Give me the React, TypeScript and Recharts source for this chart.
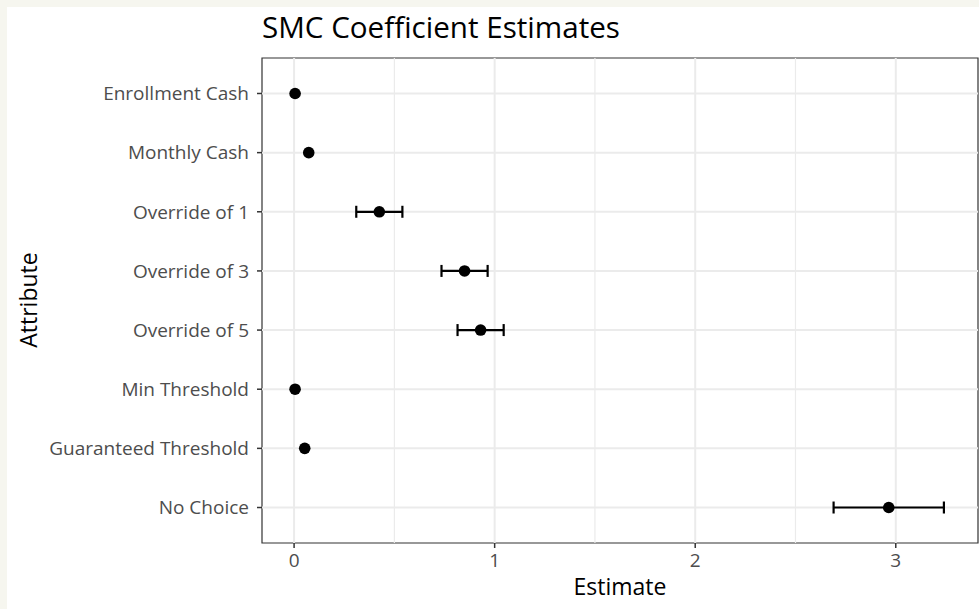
import React from 'react';
import { ScatterChart, Scatter, XAxis, YAxis, ErrorBar, ReferenceLine, ReferenceArea } from 'recharts';

// attributes, top to bottom
const attributes = [
  'Enrollment Cash',
  'Monthly Cash',
  'Override of 1',
  'Override of 3',
  'Override of 5',
  'Min Threshold',
  'Guaranteed Threshold',
  'No Choice',
];
const estimates = [0.005, 0.073, 0.425, 0.85, 0.93, 0.005, 0.053, 2.965];
// null = interval narrower than the dot
const lowers = [null, null, 0.31, 0.735, 0.815, null, null, 2.69];
const uppers = [null, null, 0.54, 0.965, 1.045, null, null, 3.24];

const xMajor = [0, 1, 2, 3];
const xMinor = [0.5, 1.5, 2.5];
const xDomain: [number, number] = [-0.16, 3.41];

const n = attributes.length;
const yTicks = attributes.map((_, i) => n - i);
const yDomain: [number, number] = [0.4, n + 0.6];

const data = attributes.map((name, i) => ({
  name,
  y: n - i,
  est: estimates[i],
  err: lowers[i] == null || uppers[i] == null ? null : [estimates[i] - lowers[i]!, uppers[i]! - estimates[i]],
}));

const font = '"Open Sans", "Noto Sans", sans-serif';
const tickStyle = { fill: '#4d4d4d', fontSize: 19, fontFamily: font };

const Dot = (props: any) => <circle cx={props.cx} cy={props.cy} r={5.8} fill="#000" />;

export default function App() {
  return (
    <div style={{ position: 'fixed', left: 0, top: 0, width: 979, height: 609, background: '#f6f6ef' }}>
      <div style={{ position: 'absolute', left: 7, top: 7, width: 972, height: 602, background: '#fff' }} />
      <div style={{ position: 'absolute', left: 0, top: 0 }}>
        <ScatterChart width={979} height={609} margin={{ top: 58, right: 1, bottom: 26, left: 12 }}>
          <XAxis
            type="number"
            dataKey="est"
            domain={xDomain}
            ticks={xMajor}
            allowDataOverflow
            height={40}
            tick={tickStyle}
            tickSize={5}
            tickMargin={6}
            axisLine={false}
            tickLine={{ stroke: '#333', strokeWidth: 1.5 }}
          />
          <YAxis
            type="number"
            dataKey="y"
            domain={yDomain}
            ticks={yTicks}
            allowDataOverflow
            width={250}
            tick={tickStyle}
            tickSize={5}
            tickMargin={8}
            axisLine={false}
            tickLine={{ stroke: '#333', strokeWidth: 1.5 }}
            tickFormatter={(v: number) => attributes[n - v]}
          />
          {xMinor.map((v) => (
            <ReferenceLine key={'mn' + v} x={v} stroke="#ebebeb" strokeWidth={1.2} />
          ))}
          {xMajor.map((v) => (
            <ReferenceLine key={'mj' + v} x={v} stroke="#ebebeb" strokeWidth={2} />
          ))}
          {yTicks.map((v) => (
            <ReferenceLine key={'h' + v} y={v} stroke="#ebebeb" strokeWidth={2} />
          ))}
          <ReferenceArea
            x1={xDomain[0]}
            x2={xDomain[1]}
            y1={yDomain[0]}
            y2={yDomain[1]}
            fill="none"
            stroke="#333"
            strokeWidth={1.2}
          />
          <Scatter data={data} shape={Dot} isAnimationActive={false}>
            <ErrorBar dataKey="err" direction="x" width={6} stroke="#000" strokeWidth={2.2} />
          </Scatter>
        </ScatterChart>
      </div>
      <div style={{ position: 'absolute', left: 262, top: 6, fontFamily: font, fontSize: 29.6, color: '#000', whiteSpace: 'nowrap' }}>
        SMC Coefficient Estimates
      </div>
      <div style={{ position: 'absolute', left: 520, width: 200, top: 570, textAlign: 'center', fontFamily: font, fontSize: 23, color: '#000' }}>
        Estimate
      </div>
      <div
        style={{
          position: 'absolute',
          left: -72,
          top: 284,
          width: 200,
          textAlign: 'center',
          fontFamily: font,
          fontSize: 23,
          color: '#000',
          transform: 'rotate(-90deg)',
        }}
      >
        Attribute
      </div>
    </div>
  );
}
